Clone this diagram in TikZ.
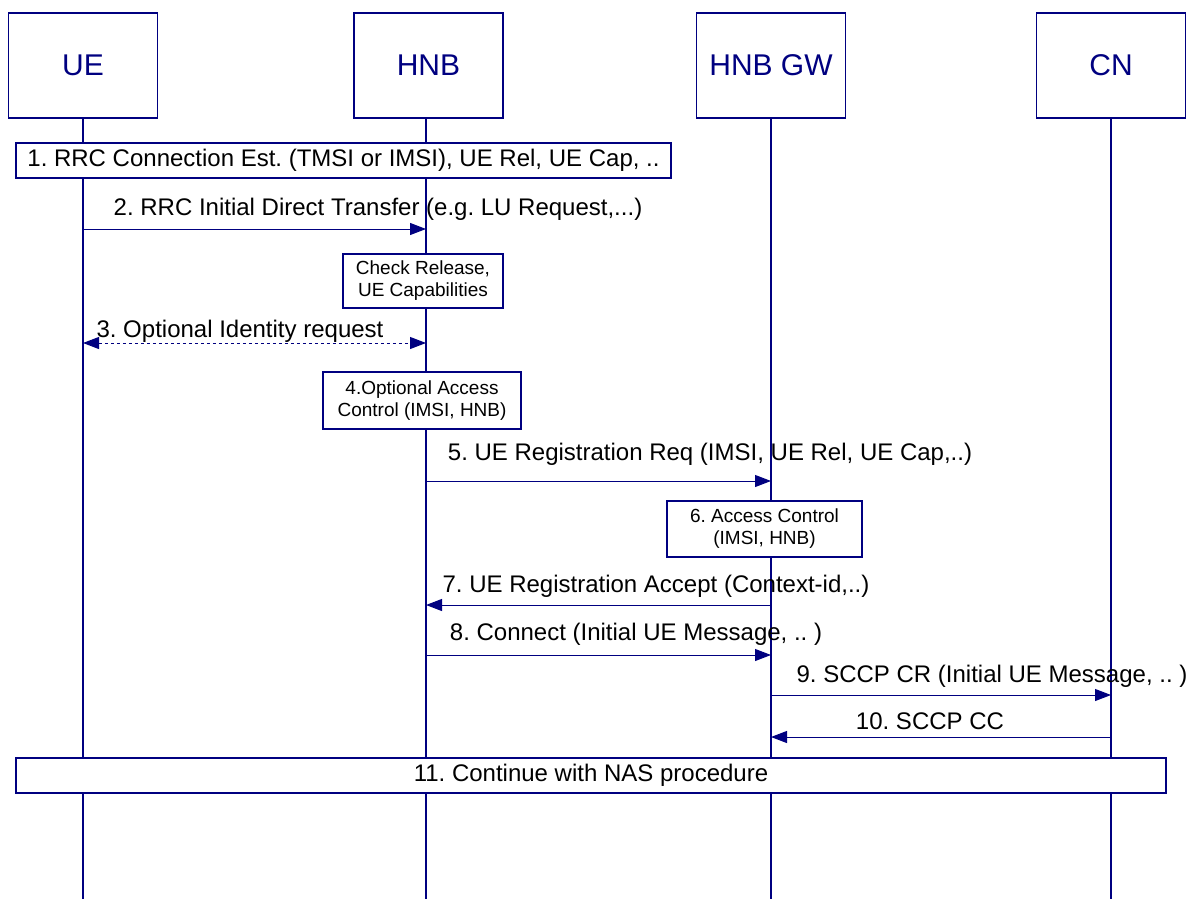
\documentclass[tikz,border=0pt]{standalone}
\usepackage{fontspec}
\setmainfont{Liberation Sans}
\usepackage{tikz}
\usetikzlibrary{arrows.meta}
\definecolor{seqblue}{HTML}{000080}
\frenchspacing

\tikzset{
  actor/.style={draw=seqblue, line width=1.3pt, fill=white, minimum width=149pt,
    minimum height=105pt, font=\fontsize{30}{32}\selectfont, text=seqblue},
  life/.style={draw=seqblue, line width=1.3pt},
  msg/.style={draw=seqblue, line width=1pt, -{Triangle[length=16pt,width=12pt]}},
  dmsg/.style={msg, dashed, {Triangle[length=16pt,width=12pt]}-{Triangle[length=16pt,width=12pt]}},
  lbl/.style={font=\fontsize{24}{26}\selectfont, inner sep=0pt},
  bar/.style={draw=seqblue, line width=1.3pt, fill=white, inner sep=0pt,
    font=\fontsize{24}{26}\selectfont},
  note/.style={draw=seqblue, line width=1.3pt, fill=white, inner sep=0pt, align=center,
    font=\fontsize{19}{22}\selectfont}
}

\begin{document}
\begin{tikzpicture}[x=1pt,y=-1pt]
        \useasboundingbox (0,0) rectangle (1196,899);
        % Actors
        \node[actor] (ue)   at (83,65.5)   {UE};
        \node[actor] (hnb)  at (428.5,65.5) {HNB};
        \node[actor] (gw)   at (771,65.5)  {HNB GW};
        \node[actor] (cn)   at (1111,65.5) {CN};
        \foreach \a in {ue,hnb,gw,cn}
            \coordinate (\a-end) at (\a |- 0,899);
        \coordinate (hnb-end) at (426,899);
        \draw[life] (ue.south)  -- (ue-end);
        \draw[life] (hnb.south -| hnb-end) -- (hnb-end);
        \draw[life] (gw.south)  -- (gw-end);
        \draw[life] (cn.south)  -- (cn-end);

        % 1
        \node[bar, minimum width=655pt, minimum height=35pt] (b1) at (343.5,160.5)
            {1. RRC Connection Est. (TMSI or IMSI), UE Rel, UE Cap, ..};
        % 2
        \draw[msg] (ue |- 0,229) -- (hnb-end |- 0,229);
        \node[lbl] (m2) at (378,209) {2. RRC Initial Direct Transfer (e.g. LU Request,...)};
        \node[note, minimum width=160pt, minimum height=54pt] (chk) at (423,281)
            {Check Release,\\UE Capabilities};
        % 3
        \draw[dmsg] (ue |- 0,343) -- (hnb-end |- 0,343);
        \node[lbl] (m3) at (240,331) {3. Optional Identity request};
        % 4
        \node[note, minimum width=198pt, minimum height=57pt] (acc) at (422,400.5)
            {4.Optional Access\\Control (IMSI, HNB)};
        % 5
        \draw[msg] (hnb-end |- 0,481) -- (gw |- 0,481);
        \node[lbl] (m5) at (710,454) {5. UE Registration Req (IMSI, UE Rel, UE Cap,..)};
        % 6
        \node[note, minimum width=195pt, minimum height=56pt] (ctl) at (764.5,529)
            {6. Access Control\\(IMSI, HNB)};
        % 7
        \draw[msg] (gw |- 0,605) -- (hnb-end |- 0,605);
        \node[lbl] (m7) at (656,586) {7. UE Registration Accept (Context-id,..)};
        % 8
        \draw[msg] (hnb-end |- 0,655) -- (gw |- 0,655);
        \node[lbl] (m8) at (636,634) {8. Connect (Initial UE Message, .. )};
        % 9
        \draw[msg] (gw |- 0,695) -- (cn |- 0,695);
        \node[lbl] (m9) at (992,676) {9. SCCP CR (Initial UE Message, .. )};
        % 10
        \draw[msg] (cn |- 0,737) -- (gw |- 0,737);
        \node[lbl] (m10) at (930,721) {10. SCCP CC};
        % 11
        \node[bar, minimum width=1150pt, minimum height=35pt] (b11) at (591,775.5)
            {11. Continue with NAS procedure};
    \end{tikzpicture}
\end{document}
